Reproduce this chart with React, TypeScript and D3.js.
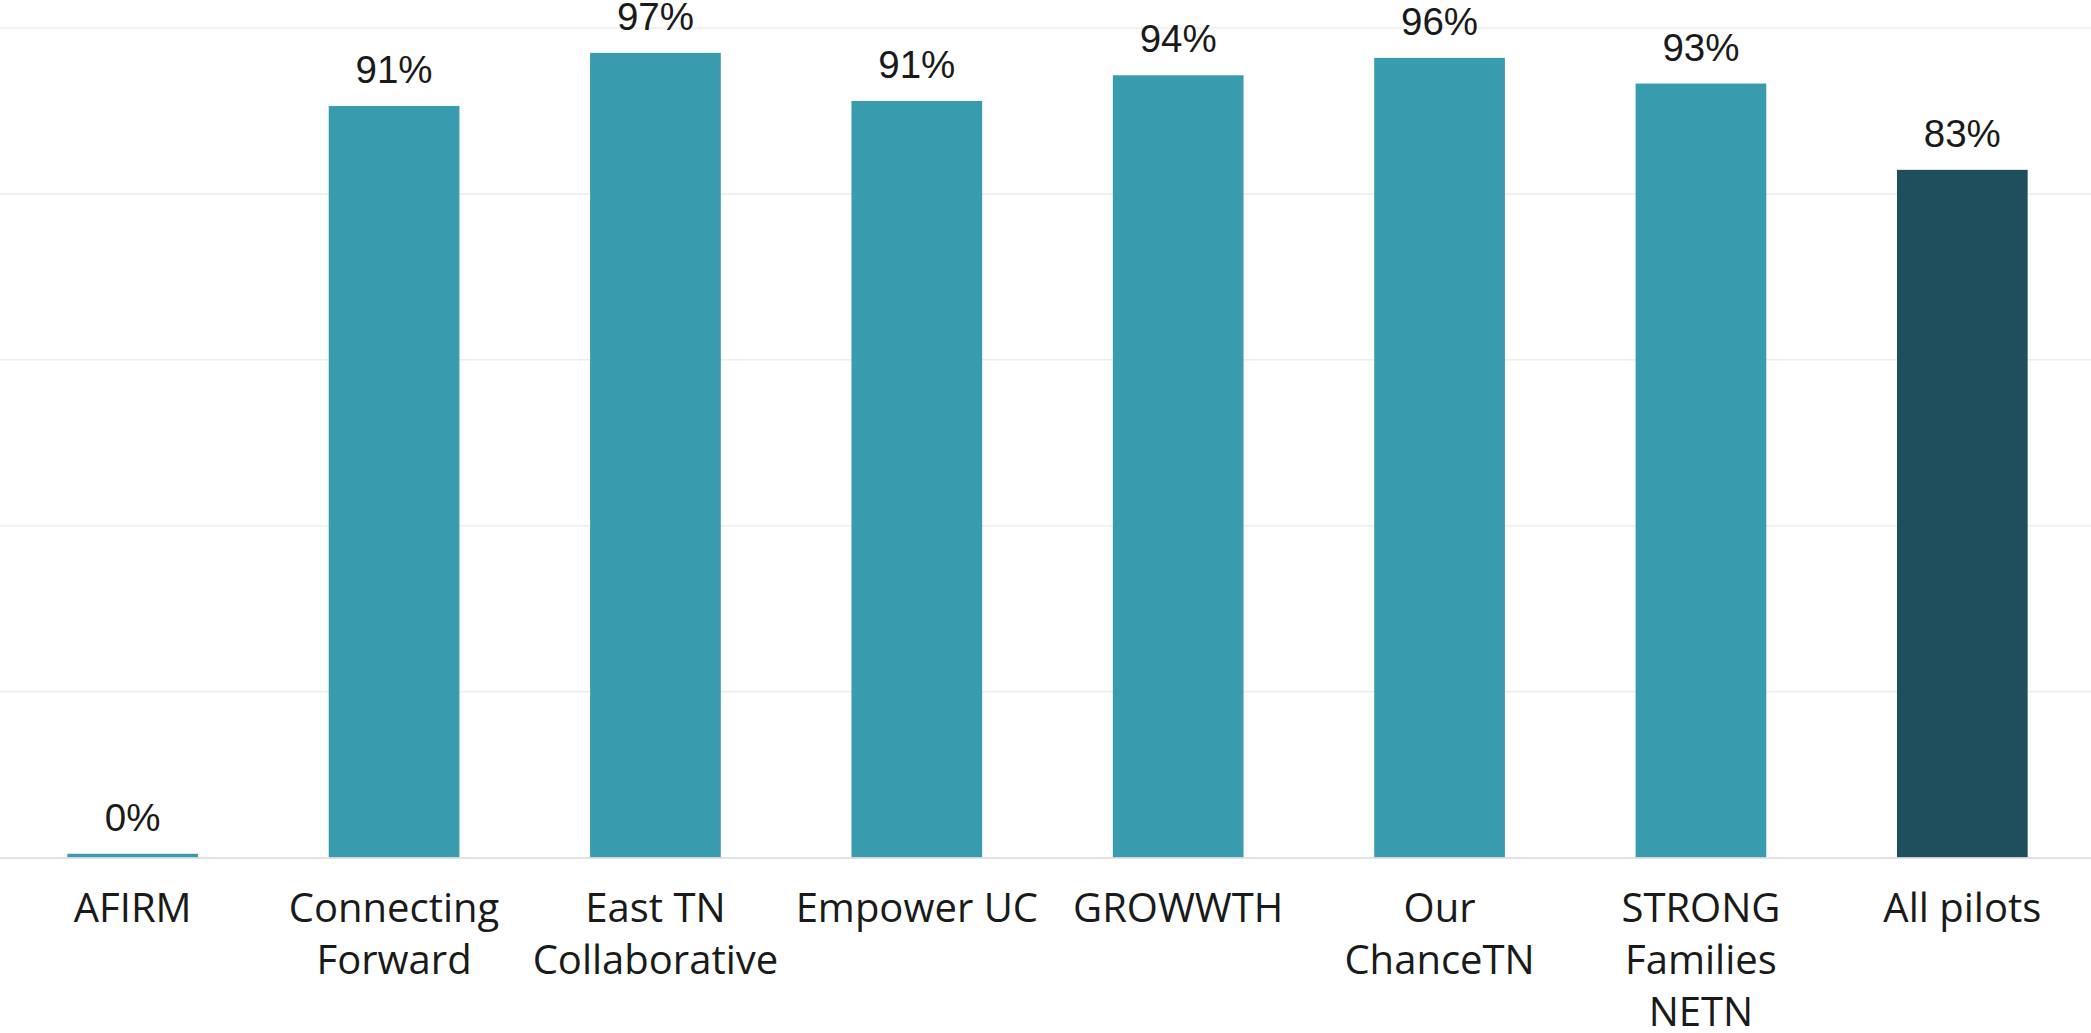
import React from "react";
import * as d3 from "d3";

const categories = [
  "AFIRM",
  "Connecting\nForward",
  "East TN\nCollaborative",
  "Empower UC",
  "GROWWTH",
  "Our\nChanceTN",
  "STRONG\nFamilies\nNETN",
  "All pilots",
];
const values = [0.0045, 0.906, 0.97, 0.912, 0.943, 0.964, 0.933, 0.829];
const highlight = [false, false, false, false, false, false, false, true];
const yTicks = [0, 0.2, 0.4, 0.6, 0.8, 1.0];

const W = 2091;
const H = 1033;
const TEAL = "#389bae";
const DARK = "#1f4f5d";

export default function App() {
  const x = d3
    .scaleBand<string>()
    .domain(categories)
    .range([2, 2093])
    .paddingInner(0.5)
    .paddingOuter(0.25);
  const y = d3.scaleLinear().domain([0, 1]).range([857.5, 28]);
  const fmt = d3.format(".0%");

  return (
    <svg
      width={W}
      height={H}
      style={{ position: "absolute", left: 0, top: 0, background: "#fff" }}
    >
      {yTicks
        .filter((t) => t > 0)
        .map((t) => (
          <line
            key={t}
            x1={0}
            x2={W}
            y1={y(t)}
            y2={y(t)}
            stroke="#eeeeee"
            strokeWidth={1.6}
          />
        ))}
      {categories.map((c, i) => (
        <rect
          key={c}
          x={x(c)}
          width={x.bandwidth()}
          y={y(values[i])}
          height={y(0) - y(values[i])}
          fill={highlight[i] ? DARK : TEAL}
        />
      ))}
      <line x1={0} x2={W} y1={y(0) + 0.5} y2={y(0) + 0.5} stroke="#d9d9d9" strokeWidth={1.6} />
      {categories.map((c, i) => (
        <text
          key={"v" + c}
          x={(x(c) as number) + x.bandwidth() / 2}
          y={y(values[i]) - 23}
          textAnchor="middle"
          fontFamily="'Liberation Sans', Arial, sans-serif"
          fontSize={38.5}
          fill="#1a1a1a"
        >
          {fmt(values[i])}
        </text>
      ))}
      {categories.map((c, i) => (
        <text
          key={"c" + c}
          textAnchor="middle"
          fontFamily="'Open Sans', sans-serif"
          fontSize={40}
          fill="#1a1a1a"
        >
          {c.split("\n").map((line, j) => (
            <tspan key={j} x={(x(c) as number) + x.bandwidth() / 2} y={922 + j * 52}>
              {line}
            </tspan>
          ))}
        </text>
      ))}
    </svg>
  );
}
